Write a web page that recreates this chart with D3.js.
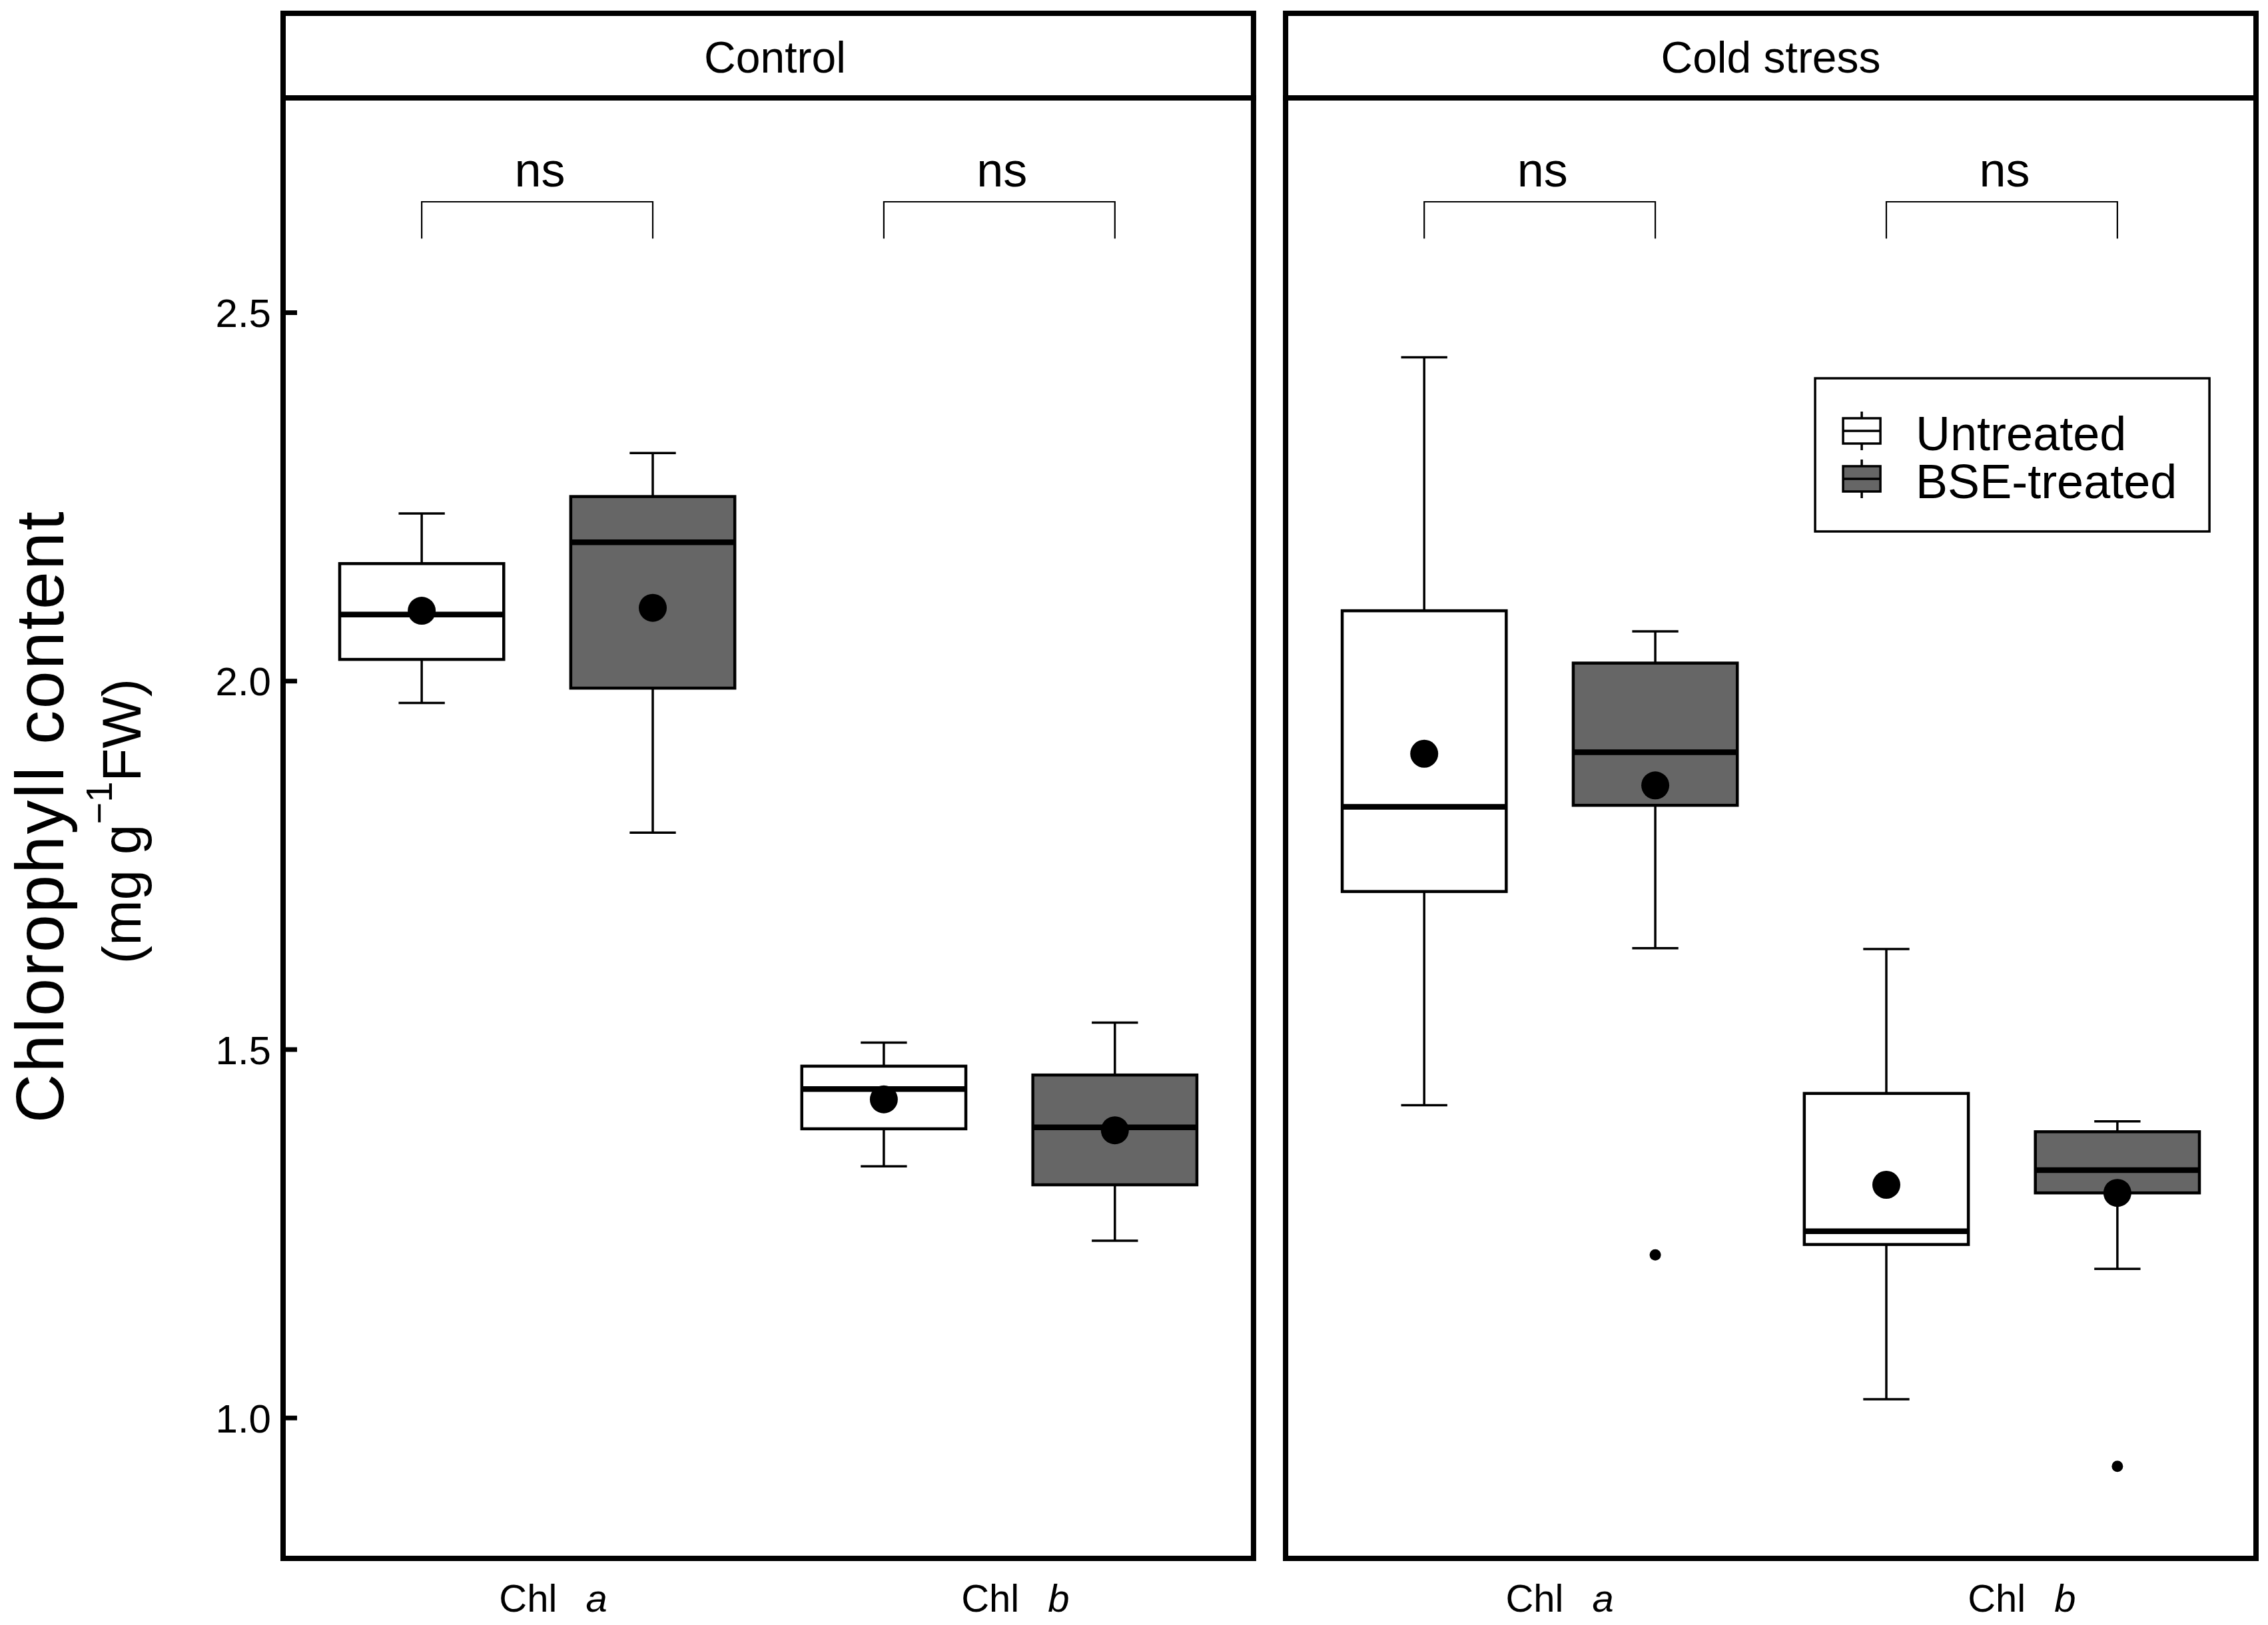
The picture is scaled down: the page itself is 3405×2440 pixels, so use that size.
<!DOCTYPE html>
<html>
<head>
<meta charset="utf-8">
<script src="https://cdn.jsdelivr.net/npm/d3@7"></script>
<style>
  body { margin: 0; background: #fff; }
  text { font-family: "Liberation Sans", Arial, sans-serif; fill: #000; }
</style>
</head>
<body>
<script>
// facets, categories, groups
const panelNames = ["Control", "Cold stress"];
const pigmentNames = ["Chl a", "Chl b"];
const treatmentNames = ["Untreated", "BSE-treated"];

// one entry per box
const boxPanel     = ["Control", "Control", "Control", "Control", "Cold stress", "Cold stress", "Cold stress", "Cold stress"];
const boxPigment   = ["Chl a", "Chl a", "Chl b", "Chl b", "Chl a", "Chl a", "Chl b", "Chl b"];
const boxTreatment = ["Untreated", "BSE-treated", "Untreated", "BSE-treated", "Untreated", "BSE-treated", "Untreated", "BSE-treated"];
const whiskerLow   = [1.970, 1.794, 1.341, 1.240, 1.424, 1.637, 1.025, 1.202];
const quart1       = [2.029, 1.990, 1.392, 1.316, 1.714, 1.831, 1.235, 1.305];
const medians      = [2.090, 2.188, 1.446, 1.394, 1.829, 1.903, 1.253, 1.336];
const quart3       = [2.159, 2.250, 1.477, 1.465, 2.095, 2.024, 1.440, 1.388];
const whiskerHigh  = [2.227, 2.309, 1.509, 1.536, 2.439, 2.067, 1.636, 1.402];
const means        = [2.095, 2.099, 1.432, 1.390, 1.901, 1.858, 1.316, 1.305];

// outliers
const outPanel     = ["Cold stress", "Cold stress"];
const outPigment   = ["Chl a", "Chl b"];
const outTreatment = ["BSE-treated", "BSE-treated"];
const outValue     = [1.221, 0.934];

// significance brackets (one per panel / pigment)
const sigPanel   = ["Control", "Control", "Cold stress", "Cold stress"];
const sigPigment = ["Chl a", "Chl b", "Chl a", "Chl b"];
const sigLabel   = ["ns", "ns", "ns", "ns"];
const sigY = 2.65, sigTip = 2.60;

const yTicks = [1.0, 1.5, 2.0, 2.5];
const yDomain = [0.809, 2.791];

const W = 3405, H = 2440;
const plotTop = 147, plotBottom = 2340, stripTop = 20;
const darkFill = "#666666";

const boxes = boxPanel.map((p, i) => ({
  panel: p, pigment: boxPigment[i], treatment: boxTreatment[i],
  lo: whiskerLow[i], q1: quart1[i], med: medians[i], q3: quart3[i], hi: whiskerHigh[i], mean: means[i]
}));
const outliers = outPanel.map((p, i) => ({ panel: p, pigment: outPigment[i], treatment: outTreatment[i], v: outValue[i] }));
const sigs = sigPanel.map((p, i) => ({ panel: p, pigment: sigPigment[i], label: sigLabel[i] }));

const svg = d3.select("body").append("svg")
  .attr("width", W)
  .attr("height", H);

svg.append("rect").attr("width", W).attr("height", H).attr("fill", "#fff");

// scales
const fx = d3.scaleBand().domain(panelNames).range([425, 3387]).paddingInner(0.032);
const pw = fx.bandwidth();
const x = d3.scalePoint().domain(pigmentNames).range([0, pw]).padding(0.55);
const xt = d3.scaleBand().domain(treatmentNames).range([-x.step() / 2, x.step() / 2]);
const boxW = xt.bandwidth() * 0.71;
const capW = xt.bandwidth() * 0.2;
const y = d3.scaleLinear().domain(yDomain).range([plotBottom, plotTop]);
const fill = d3.scaleOrdinal().domain(treatmentNames).range(["#ffffff", darkFill]);

const cx = d => x(d.pigment) + xt(d.treatment) + xt.bandwidth() / 2;

panelNames.forEach((pn, pi) => {
  const g = svg.append("g").attr("transform", `translate(${fx(pn)},0)`);
  const data = boxes.filter(d => d.panel === pn);

  // whiskers
  const wg = g.append("g").attr("stroke", "#000").attr("stroke-width", 3.5);
  wg.selectAll(".wlo").data(data).join("line").attr("class", "wlo")
    .attr("x1", cx).attr("x2", cx).attr("y1", d => y(d.lo)).attr("y2", d => y(d.q1));
  wg.selectAll(".whi").data(data).join("line").attr("class", "whi")
    .attr("x1", cx).attr("x2", cx).attr("y1", d => y(d.q3)).attr("y2", d => y(d.hi));
  wg.selectAll(".clo").data(data).join("line").attr("class", "clo")
    .attr("x1", d => cx(d) - capW / 2).attr("x2", d => cx(d) + capW / 2)
    .attr("y1", d => y(d.lo)).attr("y2", d => y(d.lo));
  wg.selectAll(".chi").data(data).join("line").attr("class", "chi")
    .attr("x1", d => cx(d) - capW / 2).attr("x2", d => cx(d) + capW / 2)
    .attr("y1", d => y(d.hi)).attr("y2", d => y(d.hi));

  // boxes
  g.selectAll(".box").data(data).join("rect").attr("class", "box")
    .attr("x", d => cx(d) - boxW / 2)
    .attr("width", boxW)
    .attr("y", d => y(d.q3))
    .attr("height", d => y(d.q1) - y(d.q3))
    .attr("fill", d => fill(d.treatment))
    .attr("stroke", "#000").attr("stroke-width", 4.5);

  // medians
  g.selectAll(".med").data(data).join("line").attr("class", "med")
    .attr("x1", d => cx(d) - boxW / 2).attr("x2", d => cx(d) + boxW / 2)
    .attr("y1", d => y(d.med)).attr("y2", d => y(d.med))
    .attr("stroke", "#000").attr("stroke-width", 8.5);

  // outliers
  g.selectAll(".out").data(outliers.filter(d => d.panel === pn)).join("circle").attr("class", "out")
    .attr("cx", cx).attr("cy", d => y(d.v)).attr("r", 8.5).attr("fill", "#000");

  // means
  g.selectAll(".mean").data(data).join("circle").attr("class", "mean")
    .attr("cx", cx).attr("cy", d => y(d.mean)).attr("r", 21).attr("fill", "#000");

  // significance brackets
  const sg = g.selectAll(".sig").data(sigs.filter(d => d.panel === pn)).join("g").attr("class", "sig");
  sg.append("path")
    .attr("d", d => {
      const a = x(d.pigment) + xt("Untreated") + xt.bandwidth() / 2;
      const b = x(d.pigment) + xt("BSE-treated") + xt.bandwidth() / 2;
      return `M${a},${y(sigTip)}V${y(sigY)}H${b}V${y(sigTip)}`;
    })
    .attr("fill", "none").attr("stroke", "#000").attr("stroke-width", 2.2);
  sg.append("text")
    .attr("x", d => x(d.pigment) + 4)
    .attr("y", y(sigY) - 23)
    .attr("text-anchor", "middle")
    .attr("font-size", 72)
    .text(d => d.label);

  // x labels
  const xl = g.selectAll(".xlab").data(pigmentNames).join("text").attr("class", "xlab")
    .attr("x", d => x(d) + 24 + pi * 6)
    .attr("y", 2420)
    .attr("text-anchor", "middle")
    .attr("font-size", 58);
  xl.append("tspan").text(d => d.split(" ")[0] + " ");
  xl.append("tspan").attr("dx", 27).attr("font-style", "italic").text(d => d.split(" ")[1]);

  // strip
  g.append("rect")
    .attr("x", 0).attr("y", stripTop).attr("width", pw).attr("height", plotTop - stripTop)
    .attr("fill", "none").attr("stroke", "#000").attr("stroke-width", 8);
  g.append("text")
    .attr("x", pw / 2 + (pi === 0 ? 10 : 0)).attr("y", 109)
    .attr("text-anchor", "middle").attr("font-size", 66)
    .text(pn);

  // panel border
  g.append("rect")
    .attr("x", 0).attr("y", plotTop).attr("width", pw).attr("height", plotBottom - plotTop)
    .attr("fill", "none").attr("stroke", "#000").attr("stroke-width", 8);
});

// y axis (left panel only), ticks pointing inward
const yAxis = svg.append("g")
  .attr("transform", `translate(${fx("Control")},0)`)
  .call(d3.axisLeft(y).tickValues(yTicks).tickFormat(d3.format(".1f"))
    .tickSizeInner(-21).tickSizeOuter(0).tickPadding(18));
yAxis.select(".domain").remove();
yAxis.selectAll(".tick line").attr("stroke", "#000").attr("stroke-width", 7);
yAxis.selectAll(".tick text")
  .attr("font-family", "Liberation Sans, Arial, sans-serif")
  .attr("font-size", 60).attr("fill", "#000").attr("dy", "0.36em");

// y title
svg.append("text")
  .attr("transform", "translate(95,1226) rotate(-90)")
  .attr("text-anchor", "middle")
  .attr("font-size", 102)
  .attr("letter-spacing", 2.5)
  .text("Chlorophyll content");
const t2 = svg.append("text")
  .attr("transform", "translate(211,1233) rotate(-90)")
  .attr("text-anchor", "middle")
  .attr("font-size", 82);
t2.append("tspan").text("(mg g");
t2.append("tspan").attr("dy", -43).attr("font-size", 56).text("\u22121");
t2.append("tspan").attr("dy", 43).text("FW)");

// legend
const lx = fx("Cold stress") + 795, ly = 568;
const legend = svg.append("g").attr("transform", `translate(${lx},${ly})`);
legend.append("rect").attr("width", 592).attr("height", 230)
  .attr("fill", "#fff").attr("stroke", "#000").attr("stroke-width", 3.5);
const items = legend.selectAll(".item").data(treatmentNames).join("g").attr("class", "item")
  .attr("transform", (d, i) => `translate(70,${79 + i * 72})`);
items.append("line").attr("y1", -29).attr("y2", 29).attr("stroke", "#000").attr("stroke-width", 3.5);
items.append("rect").attr("x", -28).attr("y", -19).attr("width", 56).attr("height", 38)
  .attr("fill", d => fill(d)).attr("stroke", "#000").attr("stroke-width", 3.5);
items.append("line").attr("x1", -28).attr("x2", 28).attr("stroke", "#000").attr("stroke-width", 3.5);
items.append("text").attr("x", 81).attr("y", 29).attr("font-size", 72).text(d => d);
</script>
</body>
</html>
